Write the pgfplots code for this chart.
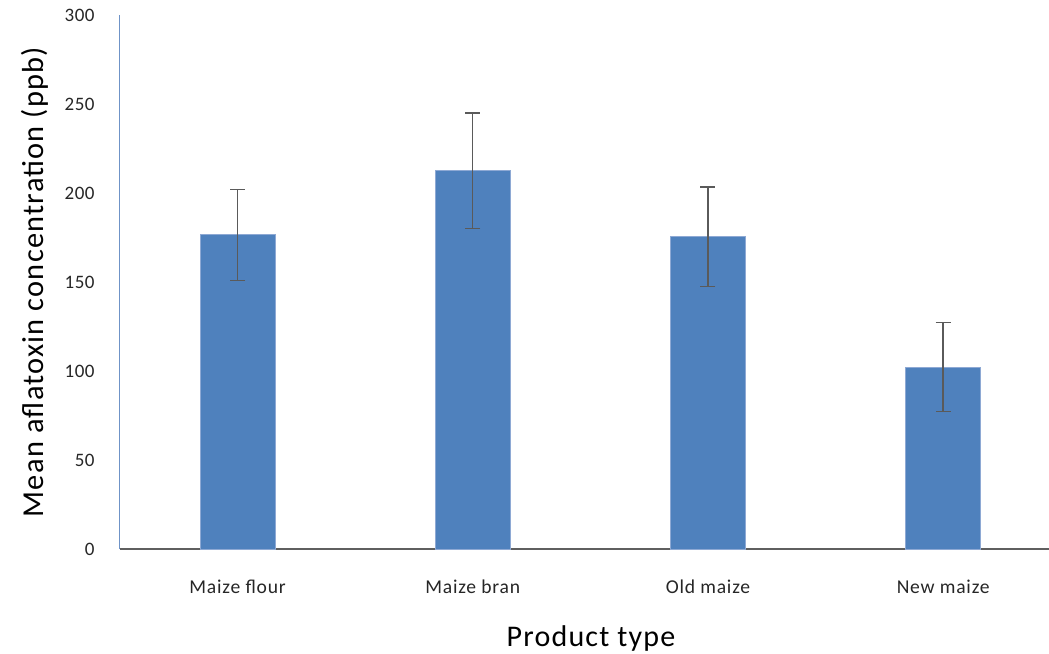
\documentclass[border=0pt]{standalone}
\usepackage{pgfplots}
\pgfplotsset{compat=1.18}
\usepackage{fontspec}
\setmainfont{Carlito}
\definecolor{barblue}{HTML}{4F81BD}
\definecolor{baredge}{HTML}{8EA9D4}
\definecolor{yaxisblue}{HTML}{6F93C7}
\definecolor{xaxisgray}{HTML}{5F5F5F}
\definecolor{errgray}{HTML}{5A5A5A}
\begin{document}
\begin{tikzpicture}
\begin{axis}[
  name=ax,
  scale only axis,
  width=464.5pt, height=267pt,
  xmin=-0.5, xmax=3.45,
  ymin=0, ymax=300,
  ybar,
  bar width=37.5pt,
  axis x line*=bottom,
  axis y line*=left,
  x axis line style={draw=xaxisgray, line width=0.9pt, -},
  y axis line style={draw=yaxisblue, line width=0.5pt, -},
  major tick length=0pt,
  xtick={0,1,2,3},
  xticklabels={Maize flour, Maize bran, Old maize, New maize},
  ytick={0,50,100,150,200,250,300},
  /pgf/number format/assume math mode=true,
  yticklabel style={font=\fontsize{9.5}{11}\selectfont\addfontfeatures{LetterSpace=3}, text=black!85, inner sep=0pt, anchor=east, xshift=-12.5pt},
  xticklabel style={font=\fontsize{9.8}{11}\selectfont\addfontfeatures{LetterSpace=4}, text=black!85, inner sep=0pt, anchor=center, yshift=-19pt},
  every axis y label/.style={at={(axis description cs:-0.0915,0.5)}, rotate=90, anchor=center, font=\fontsize{15.2}{17}\selectfont\addfontfeatures{LetterSpace=4}},
  every axis x label/.style={at={(axis description cs:0.507,0)}, yshift=-44.5pt, anchor=center, font=\fontsize{15}{17}\selectfont\addfontfeatures{LetterSpace=4}},
  ylabel={Mean aflatoxin concentration (ppb)},
  xlabel={Product type},
  clip=false,
]
\addplot[
  fill=barblue, draw=baredge, line width=0.4pt,
  error bars/.cd, y dir=both, y explicit,
  error bar style={draw=errgray, line width=0.7pt},
  error mark options={draw=errgray, line width=0.7pt, mark size=3.75pt, rotate=90},
] coordinates {
  (0,176.5) +- (0,25.5)
  (1,212.5) +- (0,32.5)
  (2,175.4) +- (0,28.0)
  (3,102.2) +- (0,25.0)
};
\end{axis}
\pgfresetboundingbox
\path ([shift={(-60pt,-52pt)}]ax.south west) rectangle ([shift={(0pt,7.5pt)}]ax.north east);
\end{tikzpicture}
\end{document}
